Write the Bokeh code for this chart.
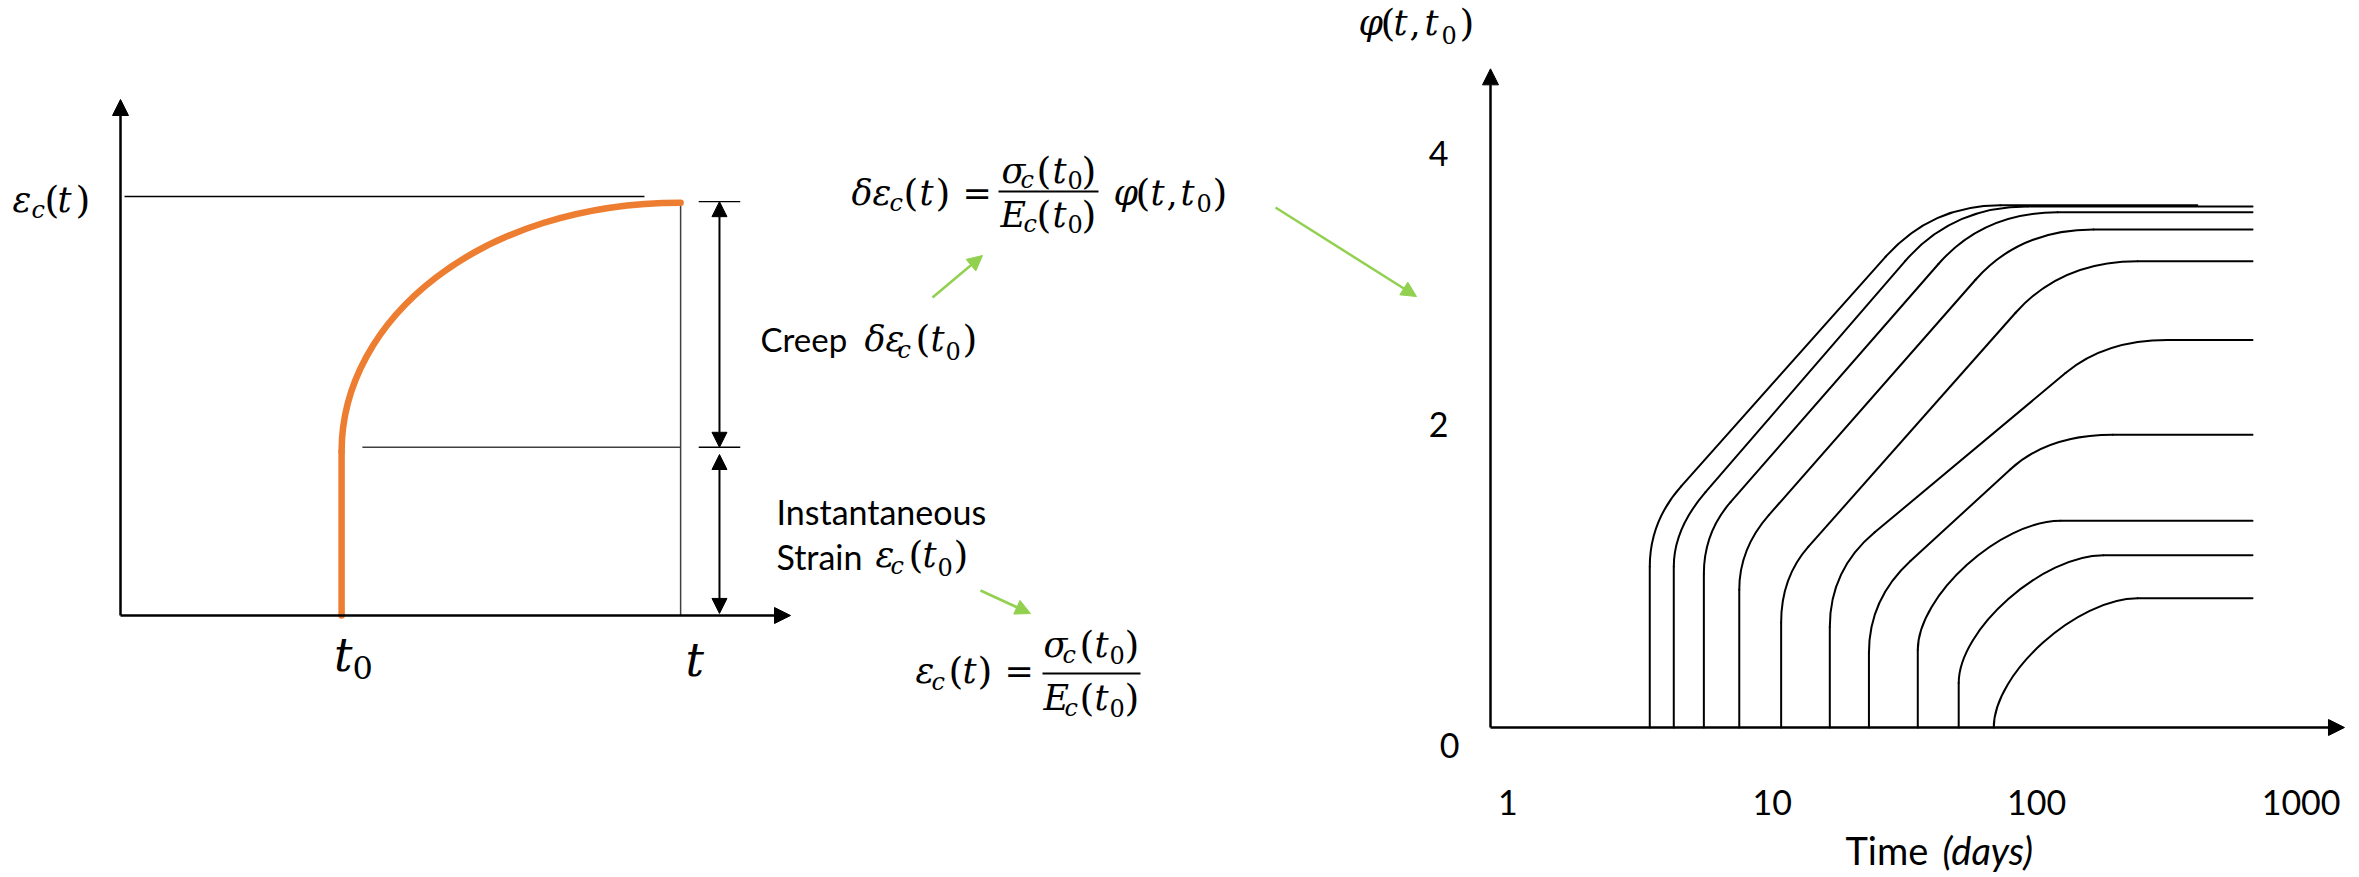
import math
from bokeh.plotting import figure
from bokeh.models import Range1d, LogScale, Arrow, NormalHead, ColumnDataSource
from bokeh.core.properties import value
from bokeh.embed import file_html
from bokeh.resources import INLINE

# ------------------------------------------------------------------ data
# Left schematic (arbitrary units: time 0..10, strain 0..10)
sketch_t0 = 3.30            # age at loading t0
sketch_t = 8.36             # observation time t
eps_inst_level = 3.26       # instantaneous strain level
eps_total_level = 8.02      # total strain at t
eps_label_level = 8.12      # level of the eps_c(t) reference line
eps_bend = 3.18             # strain where the orange curve starts to bend
eps_end = 8.00              # strain at the end of the orange curve
bend_ctrl_time = [3.30, 5.37]   # bezier control points of the creep curve
bend_ctrl_strain = [5.74, 8.00]

# Right chart: creep coefficient phi(t, t0) for several loading ages t0
t0_days = [3.44, 4.24, 5.51, 7.50, 10.8, 16.5, 23.2, 35.5, 50.7, 68.8]
phi_bend = [1.12, 1.12, 1.07, 0.96, 0.73, 0.70, 0.52, 0.54, 0.31, 0.00]
t_lin0 = [4.52, 5.59, 6.95, 9.70, 13.7, 24.4, 33.3, None, None, None]
phi_lin0 = [1.68, 1.64, 1.57, 1.48, 1.26, 1.36, 1.16, None, None, None]
t_lin1 = [26.8, 31.8, 42.5, 58.7, 83.2, 128.5, 79.6, None, None, None]
phi_lin1 = [3.28, 3.25, 3.23, 3.12, 2.89, 2.47, 1.80, None, None, None]
t_flat = [72.9, 92.3, 119.9, 164.0, 241.0, 312.0, 194.0, 123.0, 179.0, 241.0]
phi_final = [3.64, 3.63, 3.59, 3.47, 3.25, 2.70, 2.04, 1.44, 1.20, 0.90]
t_end = [405.0, 655.0, 655.0, 655.0, 655.0, 655.0, 655.0, 655.0, 655.0, 655.0]

x_ticks = [1, 10, 100, 1000]
x_tick_labels = ["1", "10", "100", "1000"]
y_ticks = [0, 2, 4]
y_tick_labels = ["0", "2", "4"]

# ------------------------------------------------------------------ figure
W, H = 2359, 877
p = figure(width=W, height=H, x_range=Range1d(0, W), y_range=Range1d(H, 0),
           x_axis_type=None, y_axis_type=None, toolbar_location=None,
           output_backend="svg", min_border=0, title=None,
           outline_line_color=None, background_fill_color="white",
           border_fill_color="white")

LX0, LXS = 120.0, 67.0      # left sketch: origin px, px per unit
LY0, LYS = 615.0, 51.6
RX0, RXS = 1507.4, 264.4    # right chart: px of 1 day, px per decade
RY0, RYS = 727.0, 143.5     # px of phi = 0, px per unit phi

p.extra_x_ranges = {
    "lt": Range1d((0 - LX0) / LXS, (W - LX0) / LXS),
    "days": Range1d(10 ** ((0 - RX0) / RXS), 10 ** ((W - RX0) / RXS)),
}
p.extra_x_scales = {"days": LogScale()}
p.extra_y_ranges = {
    "le": Range1d((LY0 - H) / LYS, LY0 / LYS),
    "phi": Range1d((RY0 - H) / RYS, RY0 / RYS),
}
L = dict(x_range_name="lt", y_range_name="le")
R = dict(x_range_name="days", y_range_name="phi")

BLACK = "black"
ORANGE = "#ED7D31"
GREEN = "#92D050"


def head(size=16, color=BLACK):
    return NormalHead(size=size, fill_color=color, line_color=color, line_width=1)


# ------------------------------------------------------------------ left sketch
p.add_layout(Arrow(end=head(), x_start=0, y_start=0, x_end=0, y_end=10.0,
                   line_width=2.5, line_color=BLACK, **L))
p.add_layout(Arrow(end=head(), x_start=0, y_start=0, x_end=10.0, y_end=0,
                   line_width=2.5, line_color=BLACK, **L))
p.segment(x0=[0.06], y0=[eps_label_level], x1=[7.82], y1=[eps_label_level],
          line_width=1.4, line_color=BLACK, **L)
p.segment(x0=[sketch_t], y0=[0], x1=[sketch_t], y1=[eps_end],
          line_width=1.5, line_color="#404040", **L)
p.segment(x0=[sketch_t0 + 0.31], y0=[eps_inst_level], x1=[sketch_t], y1=[eps_inst_level],
          line_width=1.4, line_color="#404040", **L)
p.segment(x0=[8.63, 8.63], y0=[eps_total_level, eps_inst_level],
          x1=[9.25, 9.25], y1=[eps_total_level, eps_inst_level],
          line_width=1.4, line_color=BLACK, **L)
p.add_layout(Arrow(start=head(15), end=head(15), x_start=8.94, y_start=eps_inst_level,
                   x_end=8.94, y_end=eps_total_level, line_width=2, line_color=BLACK, **L))
p.add_layout(Arrow(start=head(15), end=head(15), x_start=8.94, y_start=0.04,
                   x_end=8.94, y_end=eps_inst_level - 0.14, line_width=2, line_color=BLACK, **L))
# orange strain history: instantaneous jump then creep
p.segment(x0=[sketch_t0], y0=[0], x1=[sketch_t0], y1=[eps_bend],
          line_width=6.5, line_color=ORANGE, line_cap="round", **L)
p.bezier(x0=[sketch_t0], y0=[eps_bend], x1=[sketch_t], y1=[eps_end],
         cx0=[bend_ctrl_time[0]], cy0=[bend_ctrl_strain[0]],
         cx1=[bend_ctrl_time[1]], cy1=[bend_ctrl_strain[1]],
         line_width=6.5, line_color=ORANGE, line_cap="round", **L)

# ------------------------------------------------------------------ right chart
axis_t = 10 ** ((1490 - RX0) / RXS)
p.add_layout(Arrow(end=head(), x_start=axis_t, y_start=0, x_end=axis_t, y_end=4.59,
                   line_width=2.5, line_color=BLACK, **R))
p.add_layout(Arrow(end=head(), x_start=axis_t, y_start=0, x_end=1459, y_end=0,
                   line_width=2.5, line_color=BLACK, **R))

seg = dict(x0=[], y0=[], x1=[], y1=[])
quad = dict(x0=[], y0=[], x1=[], y1=[], cx=[], cy=[])
bez = dict(x0=[], y0=[], x1=[], y1=[], cx0=[], cy0=[], cx1=[], cy1=[])


def add_seg(a, b, c, d):
    seg["x0"].append(a); seg["y0"].append(b); seg["x1"].append(c); seg["y1"].append(d)


for i in range(len(t0_days)):
    T0, PB, TF, PF = t0_days[i], phi_bend[i], t_flat[i], phi_final[i]
    if PB > 0:
        add_seg(T0, 0, T0, PB)
    if t_lin0[i] is not None:
        la, lb = math.log10(t_lin0[i]), math.log10(t_lin1[i])
        m = (phi_lin1[i] - phi_lin0[i]) / (lb - la)
        c_phi = phi_lin0[i] + m * (math.log10(T0) - la)
        quad["x0"].append(T0); quad["y0"].append(PB)
        quad["x1"].append(t_lin0[i]); quad["y1"].append(phi_lin0[i])
        quad["cx"].append(T0); quad["cy"].append(c_phi)
        add_seg(t_lin0[i], phi_lin0[i], t_lin1[i], phi_lin1[i])
        c_t = 10 ** (la + (PF - phi_lin0[i]) / m)
        quad["x0"].append(t_lin1[i]); quad["y0"].append(phi_lin1[i])
        quad["x1"].append(TF); quad["y1"].append(PF)
        quad["cx"].append(c_t); quad["cy"].append(PF)
    else:
        k = 0.42
        l0, lf = math.log10(T0), math.log10(TF)
        bez["x0"].append(T0); bez["y0"].append(PB)
        bez["x1"].append(TF); bez["y1"].append(PF)
        bez["cx0"].append(T0); bez["cy0"].append(PB + k * (PF - PB))
        bez["cx1"].append(10 ** (lf - k * (lf - l0))); bez["cy1"].append(PF)
    add_seg(TF, PF, t_end[i], PF)

p.segment(source=ColumnDataSource(seg), x0="x0", y0="y0", x1="x1", y1="y1",
          line_width=2, line_color=BLACK, line_cap="round", **R)
p.quadratic(source=ColumnDataSource(quad), x0="x0", y0="y0", x1="x1", y1="y1",
            cx="cx", cy="cy", line_width=2, line_color=BLACK, line_cap="round", **R)
p.bezier(source=ColumnDataSource(bez), x0="x0", y0="y0", x1="x1", y1="y1",
         cx0="cx0", cy0="cy0", cx1="cx1", cy1="cy1", line_width=2,
         line_color=BLACK, line_cap="round", **R)

# tick labels
p.text(x=x_ticks, y=[0] * len(x_ticks), text=x_tick_labels, y_offset=75,
       text_align="center", text_baseline="middle", text_font=value("Lato"),
       text_font_size="34px", text_color=BLACK, **R)
p.text(source=ColumnDataSource(dict(x=[1449, 1438, 1438], y=y_ticks, t=y_tick_labels,
                                    yo=[18, -16, 0])),
       x="x", y="y", text="t", y_offset="yo", text_align="center",
       text_baseline="middle", text_font=value("Lato"), text_font_size="34px",
       text_color=BLACK, y_range_name="phi")

# ------------------------------------------------------------------ texts
MS, SS, PS = 35, 24, 38
SERIF = "DejaVu Serif"
MID = 0.36   # baseline -> middle shift, in em


def txt(s, x, b, size, style="italic", font=SERIF, align="left", xo=0, yo=0, **rng):
    """b is the baseline (page px or data value with yo as px offset)."""
    p.text(x=[x], y=[b], text=[s], x_offset=xo, y_offset=yo - MID * size,
           text_font=value(font), text_font_size=f"{size}px", text_font_style=style,
           text_align=align, text_baseline="middle", text_color=BLACK, **rng)


def math_text(pieces):
    for s, x, b, kind in pieces:
        if kind.startswith("s"):
            size = SS
            yo = 0
        elif s in "()":
            size = PS
            yo = MID * PS - MID * MS   # keep parentheses centred on the main line
        else:
            size = MS
            yo = 0
        style = "italic" if kind.endswith("i") else "normal"
        txt(s, x, b, size, style, yo=yo)


math_text([("ε", 12, 212, "i"), ("c", 31, 218, "si"), ("(", 44, 212, "n"),
           ("t", 57, 212, "i"), (")", 75, 212, "n")])

# t0 and t labels under the sketch axis
txt("t", sketch_t0, 0, 46, "italic", align="right", xo=11, yo=56, **L)
txt("0", sketch_t0, 0, 32, "normal", align="left", xo=11, yo=64, **L)
txt("t", sketch_t, 0, 46, "italic", align="center", xo=14, yo=61, **L)

# creep formula
math_text([("δε", 851, 205, "i"), ("c", 889, 211, "si"), ("(", 903, 205, "n"),
           ("t", 919, 205, "i"), (")", 935, 205, "n"), ("=", 962, 205, "n"),
           ("σ", 1001, 183, "i"), ("c", 1020, 188, "si"), ("(", 1036, 183, "n"),
           ("t", 1052, 183, "i"), ("0", 1067, 188, "sn"), (")", 1081, 183, "n"),
           ("E", 1000, 227, "i"), ("c", 1023, 232, "si"), ("(", 1036, 227, "n"),
           ("t", 1052, 227, "i"), ("0", 1067, 232, "sn"), (")", 1081, 227, "n"),
           ("φ", 1113, 205, "i"), ("(", 1135, 205, "n"), ("t", 1150, 205, "i"),
           (",", 1166, 205, "n"), ("t", 1180, 205, "i"), ("0", 1196, 211, "sn"),
           (")", 1212, 205, "n")])
p.segment(x0=[998], y0=[191], x1=[1098], y1=[191], line_width=2, line_color=BLACK)

# Creep label
txt("Creep", 760, 350, 33, "normal", font="Lato")
math_text([("δε", 864, 351, "i"), ("c", 897, 358, "si"), ("(", 915, 351, "n"),
           ("t", 930, 351, "i"), ("0", 945, 359, "sn"), (")", 962, 351, "n")])

# Instantaneous strain label
txt("Instantaneous", 776, 523, 34, "normal", font="Lato")
txt("Strain", 776, 568, 34, "normal", font="Lato")
math_text([("ε", 875, 567, "i"), ("c", 890, 574, "si"), ("(", 908, 567, "n"),
           ("t", 922, 567, "i"), ("0", 937, 575, "sn"), (")", 953, 567, "n")])

# elastic formula
math_text([("ε", 915, 683, "i"), ("c", 931, 690, "si"), ("(", 948, 683, "n"),
           ("t", 962, 683, "i"), (")", 977, 683, "n"), ("=", 1004, 683, "n"),
           ("σ", 1043, 657, "i"), ("c", 1062, 663, "si"), ("(", 1079, 657, "n"),
           ("t", 1094, 657, "i"), ("0", 1109, 663, "sn"), (")", 1124, 657, "n"),
           ("E", 1043, 710, "i"), ("c", 1064, 716, "si"), ("(", 1079, 710, "n"),
           ("t", 1094, 710, "i"), ("0", 1109, 716, "sn"), (")", 1124, 710, "n")])
p.segment(x0=[1042], y0=[673], x1=[1140], y1=[673], line_width=2, line_color=BLACK)

# phi(t, t0) axis title
math_text([("φ", 1358, 35, "i"), ("(", 1380, 35, "n"), ("t", 1393, 35, "i"),
           (",", 1409, 35, "n"), ("t", 1424, 35, "i"), ("0", 1441, 43, "sn"),
           (")", 1459, 35, "n")])

# x-axis title
txt("Time", 1845, 863, 38, "normal", font="Lato")
txt("(days)", 1942, 863, 38, "italic", font="Lato")

# green pointer arrows
for xs, ys, xe, ye in [(932, 297, 982, 255), (980, 590, 1030, 613), (1275, 207, 1416, 296)]:
    p.add_layout(Arrow(end=head(15, GREEN), x_start=xs, y_start=ys, x_end=xe, y_end=ye,
                       line_width=2.5, line_color=GREEN))

open("out.html", "w").write(file_html(p, INLINE))
